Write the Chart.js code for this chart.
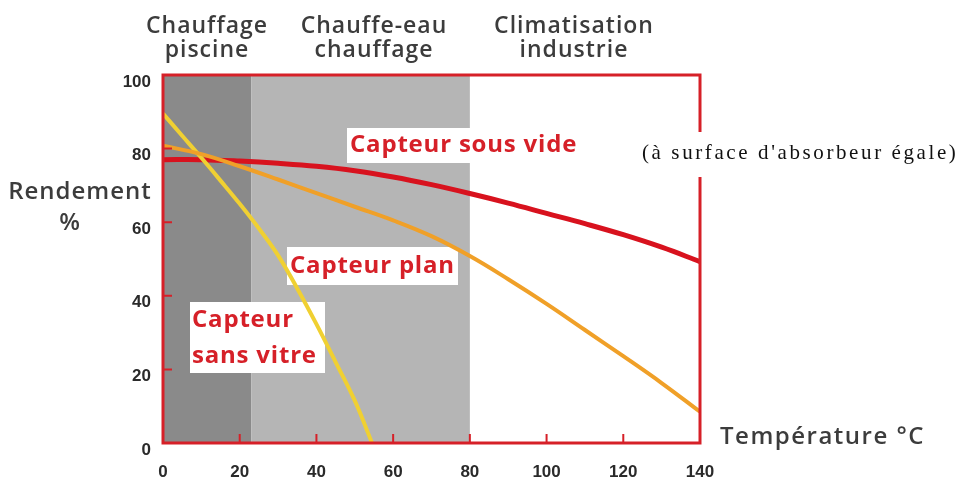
<html>
<head>
<script src="https://cdn.jsdelivr.net/npm/chart.js"></script>
<style>
  body { margin: 0; background: #ffffff; }
  #wrap { width: 973px; height: 499px; }
</style>
</head>
<body>
<div id="wrap"><canvas id="chartCanvas" width="973" height="499"></canvas></div>
<script>
// data
var sousVideT = [0, 10, 20, 30, 40, 50, 60, 70, 80, 90, 100, 110, 120, 130, 140];
var sousVideR = [77, 77, 76.6, 76, 75.2, 74, 72.3, 70.2, 67.8, 65.2, 62.4, 59.6, 56.6, 53.2, 49.3];
var planT = [0, 10, 20, 30, 40, 50, 60, 70, 80, 90, 100, 110, 120, 130, 140];
var planR = [80.8, 78.5, 75.2, 71.6, 67.9, 64.2, 60.5, 56.2, 50.8, 44.5, 37.8, 30.7, 23.6, 16.3, 8.5];
var sansVitreT = [0, 5, 10, 15, 20, 25, 30, 35, 40, 45, 50, 54.5];
var sansVitreR = [89.5, 83.5, 77.5, 71.3, 65, 58.3, 51, 42, 32.3, 22, 11.5, 0];
var xTicks = [0, 20, 40, 60, 80, 100, 120, 140];
var yTicks = [0, 20, 40, 60, 80, 100];
var zoneEdges = [0, 23, 80, 140];
var zoneNames = [["Chauffage", "piscine"], ["Chauffe-eau", "chauffage"], ["Climatisation", "industrie"]];

var comic = "'Open Sans', 'DejaVu Sans', sans-serif";
var red = 'rgb(214, 32, 40)';
var zoneColors = ['rgb(138, 138, 138)', 'rgb(181, 181, 181)', 'rgba(255,255,255,0)'];

function pts(xs, ys) {
    var out = [];
    for (var i = 0; i < xs.length; i++) out.push({ x: xs[i], y: ys[i] });
    return out;
}

function labelBox(ctx, x, y, w, h, lines, color) {
    ctx.fillStyle = '#ffffff';
    ctx.fillRect(x, y, w, h);
    ctx.fillStyle = color;
    ctx.textBaseline = 'middle';
    for (var i = 0; i < lines.length; i++) {
        ctx.fillText(lines[i].t, lines[i].x, lines[i].y);
    }
}

var decor = {
    id: 'decor',
    beforeDatasetsDraw: function (chart) {
        var ctx = chart.ctx, xs = chart.scales.x, a = chart.chartArea;
        ctx.save();
        // zones behind the curves
        for (var i = 0; i < zoneColors.length; i++) {
            var x0 = xs.getPixelForValue(zoneEdges[i]);
            var x1 = xs.getPixelForValue(zoneEdges[i + 1]);
            ctx.fillStyle = zoneColors[i];
            ctx.fillRect(x0, a.top, x1 - x0, a.bottom - a.top);
        }
        // zone titles above the plot
        ctx.fillStyle = '#3c3c3c';
        ctx.font = '600 23px ' + comic;
        ctx.letterSpacing = '1px';
        ctx.textAlign = 'center';
        ctx.textBaseline = 'middle';
        var centers = [207, 374, 574];
        for (var j = 0; j < zoneNames.length; j++) {
            ctx.fillText(zoneNames[j][0], centers[j], 26);
            ctx.fillText(zoneNames[j][1], centers[j], 50);
        }
        // white label boxes sit under the curves
        ctx.font = 'bold 24px ' + comic;
        ctx.letterSpacing = '0.8px';
        ctx.textAlign = 'left';
        labelBox(ctx, 347, 128, 238, 35, [{ t: 'Capteur sous vide', x: 350, y: 145 }], red);
        labelBox(ctx, 287, 247, 171, 38, [{ t: 'Capteur plan', x: 290, y: 266 }], red);
        labelBox(ctx, 190, 302, 135, 71, [{ t: 'Capteur', x: 192, y: 320 }, { t: 'sans vitre', x: 192, y: 356 }], red);
        ctx.letterSpacing = '0px';
        ctx.restore();
    },
    afterDatasetsDraw: function (chart) {
        var ctx = chart.ctx, xs = chart.scales.x, ys = chart.scales.y, a = chart.chartArea;
        ctx.save();
        // red frame
        ctx.strokeStyle = red;
        ctx.lineWidth = 3;
        ctx.strokeRect(a.left, a.top, a.right - a.left, a.bottom - a.top);
        // small inward ticks
        ctx.lineWidth = 2;
        ctx.beginPath();
        for (var i = 1; i < xTicks.length - 1; i++) {
            var px = xs.getPixelForValue(xTicks[i]);
            ctx.moveTo(px, a.bottom);
            ctx.lineTo(px, a.bottom - 9);
        }
        for (var k = 1; k < yTicks.length - 1; k++) {
            var py = ys.getPixelForValue(yTicks[k]);
            ctx.moveTo(a.left, py);
            ctx.lineTo(a.left + 9, py);
        }
        ctx.stroke();
        // note on the right, on a white patch over the frame
        ctx.fillStyle = '#ffffff';
        ctx.fillRect(640, 132, 333, 45);
        ctx.fillStyle = '#111111';
        ctx.font = "21px 'Liberation Serif', serif";
        ctx.letterSpacing = '2.6px';
        ctx.textAlign = 'left';
        ctx.textBaseline = 'middle';
        ctx.fillText("(\u00e0 surface d'absorbeur \u00e9gale)", 642, 153);
        // axis names
        ctx.fillStyle = '#3c3c3c';
        ctx.font = '600 24px ' + comic;
        ctx.letterSpacing = '1px';
        ctx.textAlign = 'center';
        ctx.fillText('Rendement', 80, 192);
        ctx.fillText('%', 70, 223);
        ctx.textAlign = 'left';
        ctx.letterSpacing = '1.5px';
        ctx.fillText('Temp\u00e9rature \u00b0C', 720, 437);
        ctx.letterSpacing = '0px';
        ctx.restore();
    }
};

var ctx = document.getElementById('chartCanvas').getContext('2d');
var chart = new Chart(ctx, {
    type: 'line',
    data: {
        datasets: [
            {
                label: 'Capteur plan',
                data: pts(planT, planR),
                borderColor: 'rgb(240, 160, 40)',
                borderWidth: 4,
                tension: 0.4,
                pointRadius: 0
            },
            {
                label: 'Capteur sans vitre',
                data: pts(sansVitreT, sansVitreR),
                borderColor: 'rgb(240, 208, 50)',
                borderWidth: 4,
                tension: 0.4,
                pointRadius: 0
            },
            {
                label: 'Capteur sous vide',
                data: pts(sousVideT, sousVideR),
                borderColor: 'rgb(216, 18, 30)',
                borderWidth: 5,
                tension: 0.4,
                pointRadius: 0
            }
        ]
    },
    options: {
        responsive: false,
        animation: false,
        layout: { padding: { left: 0, top: 75, right: 273, bottom: 0 } },
        plugins: { legend: { display: false }, tooltip: { enabled: false } },
        scales: {
            x: {
                type: 'linear',
                min: 0,
                max: 140,
                afterFit: function (s) { s.height = 56; },
                afterBuildTicks: function (s) { s.ticks = xTicks.map(function (v) { return { value: v }; }); },
                grid: { display: false, drawTicks: false },
                border: { display: false },
                ticks: {
                    padding: 19,
                    color: '#2a2a2a',
                    font: { family: "'Liberation Sans', sans-serif", size: 17, weight: 'bold' }
                }
            },
            y: {
                min: 0,
                max: 100,
                afterFit: function (s) { s.width = 163; },
                afterBuildTicks: function (s) { s.ticks = yTicks.map(function (v) { return { value: v }; }); },
                grid: { display: false, drawTicks: false },
                border: { display: false },
                ticks: {
                    padding: 12,
                    labelOffset: 7,
                    color: '#2a2a2a',
                    font: { family: "'Liberation Sans', sans-serif", size: 17, weight: 'bold' }
                }
            }
        }
    },
    plugins: [decor]
});
</script>
</body>
</html>
